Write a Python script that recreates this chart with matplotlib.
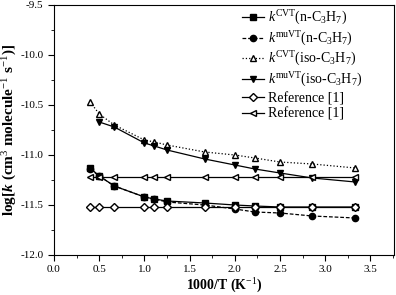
import matplotlib
matplotlib.use("Agg")
import matplotlib.pyplot as plt
from matplotlib.ticker import MultipleLocator, FormatStrFormatter

# 1000/T grid (T = 2500 ... 300 K)
inv_t = [0.4, 0.5, 0.667, 1.0, 1.111, 1.25, 1.667, 2.0, 2.222, 2.5, 2.857, 3.333]
inv_t_mu_iso = inv_t[1:]

k_cvt_n = [-11.13, -11.21, -11.31, -11.42, -11.44, -11.46, -11.48, -11.50, -11.51, -11.52, -11.52, -11.52]
k_mu_n = [-11.14, -11.21, -11.31, -11.42, -11.44, -11.47, -11.50, -11.54, -11.57, -11.58, -11.61, -11.63]
k_cvt_iso = [-10.47, -10.59, -10.70, -10.85, -10.87, -10.90, -10.97, -11.00, -11.03, -11.07, -11.09, -11.13]
k_mu_iso = [-10.67, -10.72, -10.88, -10.91, -10.95, -11.04, -11.10, -11.14, -11.18, -11.23, -11.27]
ref_diamond = [-11.52] * len(inv_t)
ref_triangle = [-11.22] * len(inv_t)

labels = [
    r"$k^{\rm CVT}$(n-C$_3$H$_7$)",
    r"$k^{\rm muVT}$(n-C$_3$H$_7$)",
    r"$k^{\rm CVT}$(iso-C$_3$H$_7$)",
    r"$k^{\rm muVT}$(iso-C$_3$H$_7$)",
    "Reference [1]",
    "Reference [1]",
]

plt.rcParams["font.family"] = "Liberation Serif"
plt.rcParams["mathtext.fontset"] = "custom"
plt.rcParams["mathtext.rm"] = "Liberation Serif"
plt.rcParams["mathtext.it"] = "Liberation Serif:italic"
plt.rcParams["mathtext.bf"] = "Liberation Serif:bold"
plt.rcParams["mathtext.bfit"] = "Liberation Serif:bold:italic"

fig = plt.figure(figsize=(3.96, 2.95), dpi=100)
ax = fig.add_axes([54 / 396, 40 / 295, 340 / 396, 250 / 295])

ms = 4.5
lw = 0.9
ax.plot(inv_t, k_cvt_n, "k-", marker="s", ms=ms, lw=lw, label=labels[0])
ax.plot(inv_t, k_mu_n, "k--", marker="o", ms=ms, lw=lw, dashes=(3, 1.5), label=labels[1])
ax.plot(inv_t, k_cvt_iso, "k:", marker="^", ms=ms, lw=lw, mfc="white", label=labels[2])
ax.plot(inv_t_mu_iso, k_mu_iso, "k-", marker="v", ms=ms, lw=lw, label=labels[3])
ax.plot(inv_t, ref_diamond, "k-", marker="D", ms=4, lw=lw, mfc="white", label=labels[4])
ax.plot(inv_t, ref_triangle, "k-", marker="<", ms=ms, lw=lw, mfc="white", label=labels[5])

ax.set_xlim(0, 3.76)
ax.set_ylim(-12.0, -9.5)
ax.xaxis.set_major_locator(MultipleLocator(0.5))
ax.xaxis.set_minor_locator(MultipleLocator(0.25))
ax.yaxis.set_major_locator(MultipleLocator(0.5))
ax.yaxis.set_minor_locator(MultipleLocator(0.25))
ax.tick_params(which="both", direction="out", top=False, right=False, labelsize=8)
ax.tick_params(which="major", length=4)
ax.tick_params(which="minor", length=2)
ax.xaxis.set_major_formatter(FormatStrFormatter("%.1f"))
ax.yaxis.set_major_formatter(FormatStrFormatter("%.1f"))

ax.set_xlabel(r"1000/T (K$^{-1}$)", fontsize=10, fontweight="bold", labelpad=2)
ax.set_ylabel(r"log[$\mathbfit{k}$ (cm$^{3}$ molecule$^{-1}$ s$^{-1}$)]",
              fontsize=11, fontweight="bold", labelpad=1)

ax.legend(loc="upper left", bbox_to_anchor=(0.553, 0.985), frameon=False,
          fontsize=10, handlelength=1.6, handletextpad=0.3,
          labelspacing=0.18, borderpad=0, borderaxespad=0)

fig.savefig("out.png", dpi=100)
